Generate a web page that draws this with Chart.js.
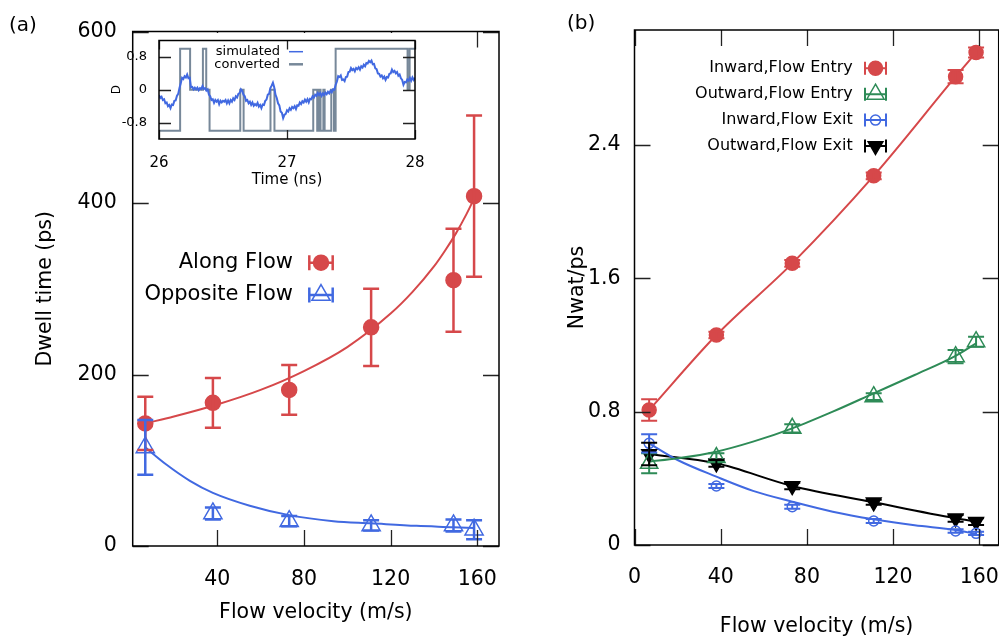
<!DOCTYPE html>
<html>
<head>
<meta charset="utf-8">
<script src="https://cdn.jsdelivr.net/npm/chart.js@4.4.0/dist/chart.umd.min.js"></script>
<style>
  html, body { margin: 0; padding: 0; background: #fff; width: 999px; height: 637px; overflow: hidden; }
  canvas { position: absolute; }
  .tag { position: absolute; font: 20px "DejaVu Sans", sans-serif; line-height: 20px; color: #000; }
</style>
</head>
<body>
<canvas id="dwell" width="520" height="637" style="left:0;top:0"></canvas>
<canvas id="inset" width="330" height="165" style="left:100px;top:30px"></canvas>
<canvas id="nwat" width="490" height="637" style="left:520px;top:0"></canvas>
<div class="tag" style="left:9px;top:14px">(a)</div>
<div class="tag" style="left:567px;top:12px">(b)</div>
<script>
// flow velocities (m/s) shared by both panels
const flowVel = [6.8, 38, 73.2, 111, 149, 158.5];

// (a) dwell time (ps)
const alongDwell = [143, 167, 182, 255, 310, 408];
const alongErr = [31, 29, 29, 45, 60, 94];
const oppDwell = [115, 38, 29, 24, 24, 19];
const oppErr = [32, 7, 6, 6, 7, 11];
const alongFitV = [6.8, 20, 40, 60, 80, 100, 120, 130, 140, 145, 150, 155, 158.5];
const alongFitY = [143, 151, 165, 182, 204, 232, 271, 296, 326, 344, 364, 387, 405];
const oppFitV = [6.8, 16.5, 27.4, 38, 55, 73.2, 93.6, 111, 132, 149, 158.5];
const oppFitY = [115, 95, 76, 62, 47, 36, 29, 26.5, 23.5, 22, 21];
const dwellTicks = [0, 200, 400, 600];
const velTicksA = [40, 80, 120, 160];

// (b) water flux (Nwat/ps)
const inEntry = [0.81, 1.26, 1.69, 2.215, 2.81, 2.955];
const inEntryErr = [0.065, 0.02, 0.02, 0.02, 0.04, 0.03];
const outEntry = [0.49, 0.525, 0.70, 0.89, 1.13, 1.22];
const outEntryErr = [0.06, 0.025, 0.025, 0.02, 0.04, 0.03];
const inExit = [0.61, 0.354, 0.23, 0.144, 0.084, 0.07];
const inExitErr = [0.055, 0.012, 0.012, 0.012, 0.01, 0.01];
const outExit = [0.546, 0.49, 0.354, 0.256, 0.16, 0.14];
const outExitErr = [0.068, 0.02, 0.02, 0.015, 0.02, 0.02];
const fitV = [6.8, 20, 38, 55, 73.2, 92, 111, 130, 149, 158.5];
const outEntryFit = [0.5, 0.52, 0.56, 0.62, 0.70, 0.80, 0.91, 1.02, 1.135, 1.21];
const inExitFit = [0.61, 0.51, 0.41, 0.325, 0.26, 0.2, 0.154, 0.118, 0.09, 0.066];
const nwatTicks = [0, 0.8, 1.6, 2.4];
const velTicksB = [0, 40, 80, 120, 160];

// inset: D(t) trace every 0.01 ns from 26 to 28, and its three-state version
const simD = [
  -0.13, -0.20, -0.17, -0.25, -0.23, -0.33, -0.31, -0.40, -0.37, -0.45,
  -0.36, -0.37, -0.27, -0.26, -0.15, -0.10, 0.04, 0.16, 0.29, 0.26,
  0.33, 0.30, 0.37, 0.28, 0.29, 0.06, 0.07, 0.01, 0.05, 0.01,
  0.05, -0.01, 0.04, 0.02, 0.09, 0.02, 0.04, -0.02, 0.01, -0.12,
  -0.16, -0.25, -0.23, -0.32, -0.25, -0.29, -0.25, -0.35, -0.27, -0.31,
  -0.27, -0.29, -0.25, -0.33, -0.26, -0.33, -0.25, -0.29, -0.21, -0.25,
  -0.16, -0.19, -0.10, -0.08, 0.01, -0.03, -0.12, -0.16, -0.27, -0.25,
  -0.33, -0.29, -0.37, -0.31, -0.39, -0.35, -0.38, -0.32, -0.41, -0.37,
  -0.45, -0.36, -0.37, -0.27, -0.24, -0.12, -0.10, 0.04, 0.10, 0.17,
  0.06, -0.12, -0.20, -0.33, -0.38, -0.53, -0.56, -0.69, -0.61, -0.59,
  -0.50, -0.53, -0.45, -0.49, -0.42, -0.45, -0.40, -0.47, -0.38, -0.39,
  -0.31, -0.35, -0.28, -0.31, -0.24, -0.29, -0.23, -0.31, -0.22, -0.23,
  -0.16, -0.19, -0.12, -0.15, -0.08, -0.13, -0.08, -0.15, -0.09, -0.13,
  -0.07, -0.11, -0.05, -0.09, -0.02, -0.06, 0.01, 0.00, 0.12, 0.20,
  0.33, 0.31, 0.35, 0.24, 0.25, 0.21, 0.31, 0.32, 0.43, 0.44,
  0.53, 0.48, 0.51, 0.45, 0.53, 0.50, 0.55, 0.49, 0.57, 0.54,
  0.61, 0.57, 0.65, 0.64, 0.70, 0.67, 0.71, 0.62, 0.63, 0.52,
  0.50, 0.40, 0.39, 0.32, 0.35, 0.28, 0.32, 0.24, 0.31, 0.30,
  0.39, 0.40, 0.49, 0.43, 0.46, 0.40, 0.43, 0.34, 0.37, 0.28,
  0.24, 0.12, 0.19, 0.18, 0.25, 0.22, 0.29, 0.22, 0.30, 0.24,
  0.29
];
const convT = [26.0, 26.165, 26.243, 26.343, 26.369, 26.395, 26.635, 26.661, 26.871, 26.902,
  27.205, 27.236, 27.249, 27.262, 27.284, 27.294, 27.346, 27.367, 27.38, 27.942,
  27.958, 28.0];
const convD = [-1, 1, 0, 1, 0, -1, 0, -1, 0, -1,
  0, -1, 0, -1, 0, -1, 0, -1, 1, 0,
  1, 1];
const timeTicks = [26, 27, 28];
const dTicks = [-0.8, 0, 0.8];

const RED = '#d6484a';
const BLUE = '#4169e1';
const GREEN = '#2e8b57';
const BLACK = '#000000';
const SLATE = '#778899';
const FONT = '"DejaVu Sans", sans-serif';

Chart.defaults.font.family = FONT;
Chart.defaults.color = '#000';

function pts(xs, ys) {
    return xs.map((x, i) => ({ x: x, y: ys[i] }));
}

function axis(min, max, tickVals, size, fontSize, tickPad, title, titleFont, titlePad) {
    return {
        type: 'linear',
        min: min,
        max: max,
        afterFit: (s) => {
            if (s.isHorizontal()) s.height = size;
            else s.width = size;
            // labels hanging past the ends must not push the plot area in
            s.paddingLeft = s.paddingRight = s.paddingTop = s.paddingBottom = 0;
        },
        afterBuildTicks: (s) => {
            s.ticks = tickVals.map((v) => ({ value: v }));
        },
        grid: { display: false, drawTicks: false },
        border: { display: false },
        ticks: {
            padding: tickPad,
            font: { size: fontSize },
            color: '#000',
            autoSkip: false,
            maxRotation: 0,
            callback: (v) => String(v),
        },
        title: {
            display: true,
            text: title,
            color: '#000',
            font: { size: titleFont, lineHeight: 1 },
            padding: titlePad,
        },
    };
}

function drawMarker(ctx, style, rot, x, y, r, color, filled, lw) {
    ctx.beginPath();
    if (style === 'circle') {
        ctx.arc(x, y, r, 0, Math.PI * 2);
    } else {
        const s = rot === 180 ? -1 : 1;
        ctx.moveTo(x, y - s * r);
        ctx.lineTo(x + r * 0.866, y + s * r * 0.5);
        ctx.lineTo(x - r * 0.866, y + s * r * 0.5);
        ctx.closePath();
    }
    if (filled) {
        ctx.fillStyle = color;
        ctx.fill();
    }
    ctx.strokeStyle = color;
    ctx.lineWidth = lw;
    ctx.stroke();
}

// vertical error bars with caps, for every dataset that carries yErr
const errorBarPlugin = {
    id: 'errorBars',
    afterDatasetsDraw(chart) {
        const ctx = chart.ctx;
        const ys = chart.scales.y;
        chart.data.datasets.forEach((ds, di) => {
            if (!ds.yErr) return;
            const meta = chart.getDatasetMeta(di);
            const c = ds.capHalf || 8;
            ctx.save();
            ctx.strokeStyle = ds.borderColor;
            ctx.lineWidth = ds.errWidth || 2;
            ctx.beginPath();
            meta.data.forEach((pt, i) => {
                const v = ds.data[i].y;
                const e = ds.yErr[i];
                const top = ys.getPixelForValue(v + e);
                const bot = ys.getPixelForValue(v - e);
                ctx.moveTo(pt.x, top); ctx.lineTo(pt.x, bot);
                ctx.moveTo(pt.x - c, top); ctx.lineTo(pt.x + c, top);
                ctx.moveTo(pt.x - c, bot); ctx.lineTo(pt.x + c, bot);
            });
            ctx.stroke();
            ctx.restore();
        });
    },
};

// box round the plot area, ticks pointing inwards on all four sides
const framePlugin = {
    id: 'frame',
    afterDatasetsDraw(chart, args, opts) {
        const ctx = chart.ctx;
        const a = chart.chartArea;
        const sx = chart.scales.x;
        const sy = chart.scales.y;
        ctx.save();
        ctx.strokeStyle = '#222';
        ctx.lineWidth = opts.tickWidth || 1.3;
        ctx.beginPath();
        sx.ticks.forEach((t) => {
            const px = Math.round(sx.getPixelForValue(t.value)) + 0.5;
            ctx.moveTo(px, a.bottom); ctx.lineTo(px, a.bottom - opts.xLen);
            ctx.moveTo(px, a.top); ctx.lineTo(px, a.top + opts.xLen);
        });
        sy.ticks.forEach((t) => {
            const py = Math.round(sy.getPixelForValue(t.value)) + 0.5;
            ctx.moveTo(a.left, py); ctx.lineTo(a.left + opts.yLen, py);
            ctx.moveTo(a.right, py); ctx.lineTo(a.right - opts.yLen, py);
        });
        ctx.stroke();
        ctx.strokeStyle = '#000';
        ctx.lineWidth = opts.width || 1.5;
        ctx.strokeRect(a.left, a.top, a.right - a.left, a.bottom - a.top);
        ctx.restore();
    },
};

// key: label on the left, error-bar sample with the marker on the right
const keyPlugin = {
    id: 'key',
    afterDraw(chart, args, o) {
        const ctx = chart.ctx;
        ctx.save();
        ctx.font = o.fontSize + 'px ' + FONT;
        ctx.textAlign = 'right';
        ctx.textBaseline = 'middle';
        let row = 0;
        chart.data.datasets.forEach((ds) => {
            if (!ds.yErr) return;
            const y = o.y0 + row * o.dy;
            ctx.fillStyle = '#000';
            ctx.fillText(ds.label, o.textRight, y);
            ctx.strokeStyle = ds.borderColor;
            ctx.lineWidth = ds.errWidth || 2;
            ctx.beginPath();
            ctx.moveTo(o.symX - o.half, y); ctx.lineTo(o.symX + o.half, y);
            ctx.moveTo(o.symX - o.half, y - o.cap); ctx.lineTo(o.symX - o.half, y + o.cap);
            ctx.moveTo(o.symX + o.half, y - o.cap); ctx.lineTo(o.symX + o.half, y + o.cap);
            ctx.stroke();
            const filled = ds.backgroundColor !== 'rgba(0,0,0,0)';
            drawMarker(ctx, ds.pointStyle, ds.pointRotation || 0, o.symX, y,
                ds.pointRadius, ds.borderColor, filled, ds.borderWidth || 1.5);
            row++;
        });
        ctx.restore();
    },
};

// inset key: label then a short line sample
const lineKeyPlugin = {
    id: 'lineKey',
    afterDraw(chart, args, o) {
        const ctx = chart.ctx;
        ctx.save();
        ctx.font = o.fontSize + 'px ' + FONT;
        ctx.textAlign = 'right';
        ctx.textBaseline = 'middle';
        chart.data.datasets.forEach((ds, i) => {
            const y = o.y0 + i * o.dy;
            ctx.fillStyle = '#000';
            ctx.fillText(ds.label, o.textRight, y);
            ctx.strokeStyle = ds.borderColor;
            ctx.lineWidth = i === 0 ? 1.5 : 2.5;
            ctx.beginPath();
            ctx.moveTo(o.x0, y); ctx.lineTo(o.x1, y);
            ctx.stroke();
        });
        ctx.restore();
    },
};

// the inset sits on a white patch that hides the main plot's top ticks
const whiteArea = {
    id: 'whiteArea',
    beforeDatasetsDraw(chart) {
        const a = chart.chartArea;
        chart.ctx.save();
        chart.ctx.fillStyle = '#fff';
        chart.ctx.fillRect(a.left - 4, 3, a.right - a.left + 8, a.bottom - 3);
        chart.ctx.restore();
    },
};

function markerSet(label, xs, ys, errs, color, style, radius, filled, rot) {
    return {
        label: label,
        data: pts(xs, ys),
        yErr: errs,
        pointStyle: style,
        pointRotation: rot || 0,
        pointRadius: radius,
        pointHoverRadius: radius,
        backgroundColor: filled ? color : 'rgba(0,0,0,0)',
        borderColor: color,
        borderWidth: 1.5,
        showLine: false,
    };
}

function fitLine(xs, ys, color) {
    return {
        data: pts(xs, ys),
        showLine: true,
        pointRadius: 0,
        borderColor: color,
        borderWidth: 2,
        cubicInterpolationMode: 'monotone',
    };
}

const common = {
    responsive: false,
    animation: false,
    devicePixelRatio: 1,
};

// (a) dwell time vs flow velocity
const dwellSets = [
    markerSet('Along Flow', flowVel, alongDwell, alongErr, RED, 'circle', 7.5, true),
    markerSet('Opposite Flow', flowVel, oppDwell, oppErr, BLUE, 'triangle', 10.5, false),
    fitLine(alongFitV, alongFitY, RED),
    fitLine(oppFitV, oppFitY, BLUE),
];
dwellSets[0].errWidth = 2.5;
dwellSets[1].errWidth = 2.5;

new Chart(document.getElementById('dwell'), {
    type: 'scatter',
    data: { datasets: dwellSets },
    options: Object.assign({}, common, {
        layout: { autoPadding: false, padding: { left: 0, right: 21, top: 31.5, bottom: 0 } },
        scales: {
            x: axis(1, 170, velTicksA, 91, 20.5, 21, 'Flow velocity (m/s)', 20.5, { top: 0, bottom: 13.75 }),
            y: axis(0, 600, dwellTicks, 132.7, 20.5, 16, 'Dwell time (ps)', 20.5, { top: 35.75, bottom: 0 }),
        },
        plugins: {
            legend: { display: false },
            tooltip: { enabled: false },
            frame: { xLen: 16, yLen: 16 },
            key: { fontSize: 21, textRight: 293, symX: 321, y0: 262.7, dy: 32.3, half: 11.7, cap: 7.5 },
        },
    }),
    plugins: [errorBarPlugin, framePlugin, keyPlugin],
});

// inset: simulated D(t) and its converted states
new Chart(document.getElementById('inset'), {
    type: 'scatter',
    data: {
        datasets: [{
            label: 'simulated',
            data: simD.map((d, i) => ({ x: 26 + i / 100, y: d })),
            showLine: true,
            pointRadius: 0,
            borderColor: BLUE,
            borderWidth: 2,
        }, {
            label: 'converted',
            data: pts(convT, convD),
            showLine: true,
            stepped: true,
            pointRadius: 0,
            borderColor: SLATE,
            borderWidth: 2,
        }],
    },
    options: Object.assign({}, common, {
        layout: { autoPadding: false, padding: { left: 0, right: 15, top: 10.5, bottom: 0 } },
        scales: {
            x: axis(26, 28, timeTicks, 56, 15, 15.3, 'Time (ns)', 15, { top: 0, bottom: 7.5 }),
            y: axis(-1.2, 1.2, dTicks, 59, 13, 12, 'D', 12, { top: 11, bottom: 0 }),
        },
        plugins: {
            legend: { display: false },
            tooltip: { enabled: false },
            frame: { xLen: 9, yLen: 12 },
            lineKey: { fontSize: 13, textRight: 180, y0: 21.7, dy: 12.6, x0: 189, x1: 203 },
        },
    }),
    plugins: [whiteArea, framePlugin, lineKeyPlugin],
});

// (b) water flux vs flow velocity
const nwatSets = [
    markerSet('Inward,Flow Entry', flowVel, inEntry, inEntryErr, RED, 'circle', 7, true),
    markerSet('Outward,Flow Entry', flowVel, outEntry, outEntryErr, GREEN, 'triangle', 10, false),
    markerSet('Inward,Flow Exit', flowVel, inExit, inExitErr, BLUE, 'circle', 5, false),
    markerSet('Outward,Flow Exit', flowVel, outExit, outExitErr, BLACK, 'triangle', 8.5, true, 180),
    fitLine(flowVel, inEntry, RED),
    fitLine(fitV, outEntryFit, GREEN),
    fitLine(fitV, inExitFit, BLUE),
    fitLine(flowVel, outExit, BLACK),
];

new Chart(document.getElementById('nwat'), {
    type: 'scatter',
    data: { datasets: nwatSets },
    options: Object.assign({}, common, {
        layout: { autoPadding: false, padding: { left: 0, right: 11.3, top: 30, bottom: 0 } },
        scales: {
            x: axis(0, 169, velTicksB, 92, 20.5, 20.7, 'Flow velocity (m/s)', 20.5, { top: 0, bottom: 0 }),
            y: axis(0, 3.09, nwatTicks, 114.5, 20.5, 14, 'Nwat/ps', 20.5, { top: 47.75, bottom: 0 }),
        },
        plugins: {
            legend: { display: false },
            tooltip: { enabled: false },
            frame: { xLen: 16, yLen: 16 },
            key: { fontSize: 16, textRight: 332.7, symX: 355.5, y0: 68.3, dy: 25.9, half: 10.5, cap: 6.5 },
        },
    }),
    plugins: [errorBarPlugin, framePlugin, keyPlugin],
});
</script>
</body>
</html>
